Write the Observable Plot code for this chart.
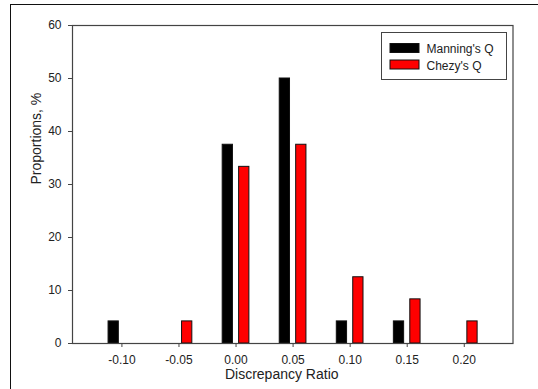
<!DOCTYPE html>
<html>
<head>
<meta charset="utf-8">
<script src="https://cdn.jsdelivr.net/npm/d3@7"></script>
<script src="https://cdn.jsdelivr.net/npm/@observablehq/plot@0.6"></script>
<style>
  html, body { margin: 0; padding: 0; background: #fff; }
  #wrap { position: relative; width: 538px; height: 389px; overflow: hidden; font-family: "Liberation Sans", Arial, sans-serif; }
  #outer { position: absolute; left: 10px; top: 4px; width: 600px; height: 500px; border-left: 1.5px solid #111; border-top: 1.5px solid #111; box-sizing: border-box; pointer-events: none; }
</style>
</head>
<body>
<div id="wrap">
  <div id="chart"></div>
  <div id="outer"></div>
</div>
<script>
const bins = [-0.10, -0.05, 0.00, 0.05, 0.10, 0.15, 0.20];
const seriesNames = ["Manning's Q", "Chezy's Q"];
const manning = [4.17, 0, 37.5, 50.0, 4.17, 4.17, 0];
const chezy = [0, 4.17, 33.33, 37.5, 12.5, 8.33, 4.17];
const colors = ["#000000", "#ff0000"];
const xTicks = [-0.10, -0.05, 0.00, 0.05, 0.10, 0.15, 0.20];
const yTicks = [0, 10, 20, 30, 40, 50, 60];

const offsets = [-0.0072, 0.0072];
const halfW = 0.0045;
const rows = [];
[manning, chezy].forEach((vals, s) => {
  vals.forEach((v, i) => {
    if (v > 0) rows.push({series: seriesNames[s], s, x: bins[i], y: v});
  });
});

const chart = Plot.plot({
  width: 538,
  height: 389,
  marginLeft: 72,
  marginRight: 25.5,
  marginTop: 25,
  marginBottom: 46,
  style: {fontFamily: "'Liberation Sans', Arial, sans-serif", fontSize: "12px", color: "#222", background: "transparent"},
  x: {domain: [-0.1433, 0.2427]},
  y: {domain: [0, 60]},
  marks: [
    Plot.rectY(rows, {
      x1: d => d.x + offsets[d.s] - halfW,
      x2: d => d.x + offsets[d.s] + halfW,
      y1: 0,
      y2: "y",
      fill: d => colors[d.s],
      stroke: "#111",
      strokeWidth: 1
    }),
    Plot.frame({stroke: "#444", strokeWidth: 1.2}),
    Plot.axisX({ticks: xTicks, tickSize: 4, tickPadding: 8, tickFormat: d => d.toFixed(2), label: null, stroke: "#444", fill: "#222"}),
    Plot.axisY({ticks: yTicks, tickSize: 4, tickPadding: 7, label: null, stroke: "#444", fill: "#222"}),
    Plot.text(["Discrepancy Ratio"], {frameAnchor: "bottom", dy: 35, dx: -11, fontSize: 14, fill: "#222"}),
    Plot.text(["Proportions, %"], {frameAnchor: "left", rotate: -90, dx: -36, fontSize: 14, fill: "#222"})
  ]
});
document.getElementById("chart").appendChild(chart);

// Legend (drawn into the chart's SVG)
const svg = d3.select(chart);
const lg = svg.append("g").attr("transform", "translate(381.5,32.5)")
  .attr("text-anchor", "start")
  .style("font-family", "'Liberation Sans', Arial, sans-serif");
lg.append("rect").attr("width", 125).attr("height", 47)
  .attr("fill", "#fff").attr("stroke", "#444").attr("stroke-width", 1);
seriesNames.forEach((name, i) => {
  const y0 = 11 + i * 16.5;
  lg.append("rect").attr("x", 8.5).attr("y", y0).attr("width", 29).attr("height", 9)
    .attr("fill", colors[i]).attr("stroke", "#111").attr("stroke-width", 1);
  lg.append("text").attr("x", 45).attr("y", y0 + 9.5)
    .attr("text-anchor", "start")
    .attr("font-size", 12).attr("fill", "#222").text(name);
});
</script>
</body>
</html>
